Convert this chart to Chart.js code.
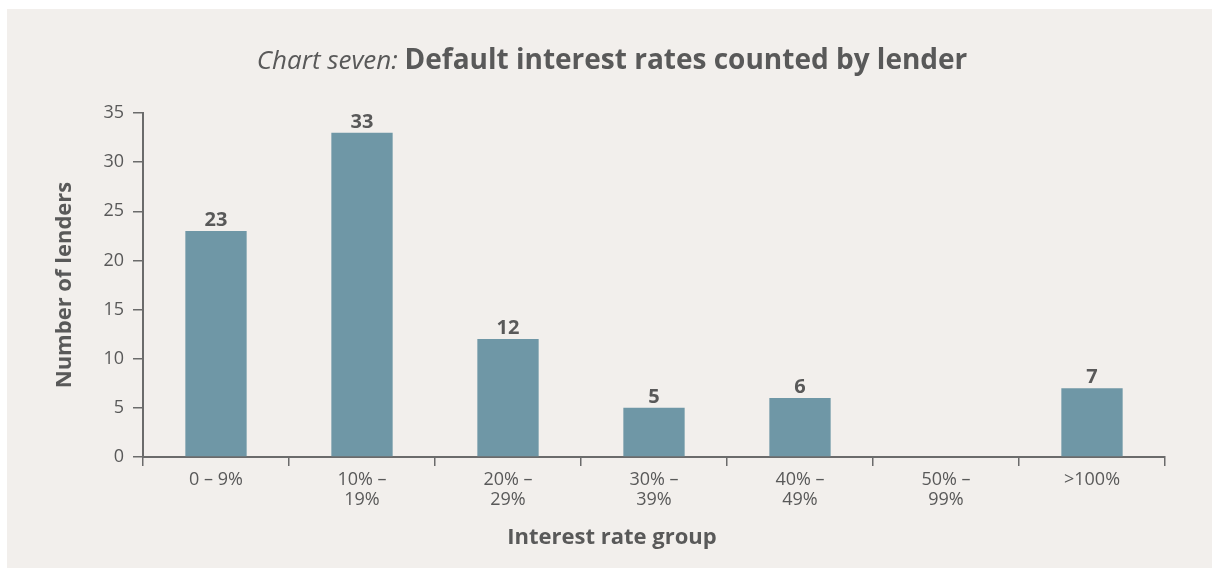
<!DOCTYPE html>
<html>
<head>
<meta charset="utf-8">
<script src="https://cdn.jsdelivr.net/npm/chart.js@4"></script>
<style>
  html, body { margin: 0; padding: 0; background: #fff; }
  #wrap { width: 1212px; height: 568px; }
</style>
</head>
<body>
<div id="wrap"><canvas id="grafico" width="1212" height="568"></canvas></div>
<script>
// dados
const categorias = [['0 – 9%'], ['10% –', '19%'], ['20% –', '29%'], ['30% –', '39%'], ['40% –', '49%'], ['50% –', '99%'], ['>100%']];
const credores = [23, 33, 12, 5, 6, 0, 7];
const yTicks = [0, 5, 10, 15, 20, 25, 30, 35];

const corTexto = '#595959';
const fonte = '"Open Sans", sans-serif';

// fundo bege + titulo + titulo do eixo x (centrado na figura)
const fundo = {
    id: 'fundo',
    beforeDraw(chart) {
        const ctx = chart.ctx;
        ctx.save();
        ctx.fillStyle = '#ffffff';
        ctx.fillRect(0, 0, chart.width, chart.height);
        ctx.fillStyle = '#f2efec';
        ctx.fillRect(7, 9, chart.width - 7, chart.height - 9);

        // titulo com dois estilos
        const t1 = 'Chart seven: ';
        const t2 = 'Default interest rates counted by lender';
        ctx.textBaseline = 'alphabetic';
        ctx.font = 'italic 26px ' + fonte;
        const w1 = ctx.measureText(t1).width;
        ctx.font = 'bold 28px ' + fonte;
        const w2 = ctx.measureText(t2).width;
        let x = 612 - (w1 + w2) / 2;
        ctx.fillStyle = corTexto;
        ctx.font = 'italic 26px ' + fonte;
        ctx.fillText(t1, x, 69);
        ctx.font = 'bold 28px ' + fonte;
        ctx.fillText(t2, x + w1, 69);

        // eixo x
        ctx.font = 'bold 22px ' + fonte;
        ctx.textAlign = 'center';
        ctx.textBaseline = 'middle';
        ctx.fillText('Interest rate group', 612, 538);
        ctx.restore();
    }
};

// valores em cima das barras
const rotulos = {
    id: 'rotulos',
    afterDatasetsDraw(chart) {
        const ctx = chart.ctx;
        const meta = chart.getDatasetMeta(0);
        ctx.save();
        ctx.font = 'bold 20px ' + fonte;
        ctx.fillStyle = corTexto;
        ctx.textAlign = 'center';
        ctx.textBaseline = 'alphabetic';
        meta.data.forEach((bar, i) => {
            const v = credores[i];
            if (!v) return;
            ctx.fillText(String(v), bar.x, bar.y - 5);
        });
        ctx.restore();
    }
};

new Chart(document.getElementById('grafico'), {
    type: 'bar',
    data: {
        labels: categorias,
        datasets: [{
            label: 'Number of lenders',
            data: credores,
            backgroundColor: '#6f97a6',
            categoryPercentage: 1,
            barPercentage: 0.42
        }]
    },
    options: {
        responsive: false,
        animation: false,
        layout: { padding: { left: 48, right: 47, top: 113, bottom: 13 } },
        plugins: {
            legend: { display: false },
            tooltip: { enabled: false }
        },
        scales: {
            x: {
                grid: { drawOnChartArea: false, drawTicks: true, tickLength: 9, color: '#6b6b6b', lineWidth: 1.5 },
                border: { color: '#6b6b6b', width: 2 },
                ticks: { color: corTexto, font: { family: fonte, size: 18, lineHeight: 1.1 }, padding: 4, maxRotation: 0 },
                afterFit(scale) { scale.height = 98; }
            },
            y: {
                min: 0,
                max: 35,
                afterBuildTicks(scale) { scale.ticks = yTicks.map(v => ({ value: v })); },
                grid: { drawOnChartArea: false, drawTicks: true, tickLength: 10, color: '#6b6b6b', lineWidth: 1.5 },
                border: { color: '#6b6b6b', width: 2 },
                ticks: { color: corTexto, font: { family: fonte, size: 18 }, padding: 9 },
                title: { display: true, text: 'Number of lenders', color: corTexto, font: { family: fonte, size: 22, weight: 'bold' }, padding: { top: 4, bottom: 4 } },
                afterFit(scale) { scale.width = 95; }
            }
        }
    },
    plugins: [fundo, rotulos]
});
</script>
</body>
</html>
